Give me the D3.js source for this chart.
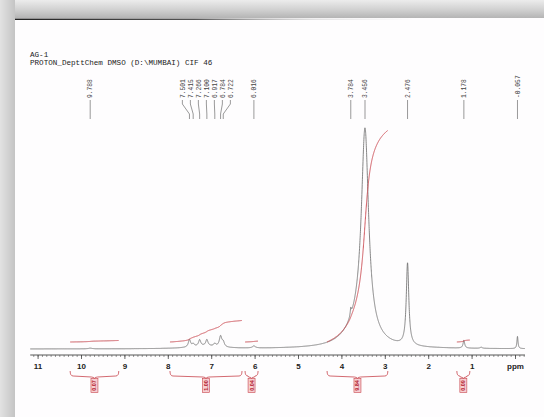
<!DOCTYPE html>
<html>
<head>
<meta charset="utf-8">
<script src="https://cdn.jsdelivr.net/npm/d3@7/dist/d3.min.js"></script>
<style>
  body { margin: 0; background: #fff; }
  svg { display: block; }
</style>
</head>
<body>
<svg id="chart" width="544" height="417"></svg>
<script>
// Header lines printed at the top of the sheet
const titleLines = ["AG-1", "PROTON_DepttChem DMSO (D:\\MUMBAI) CIF 46"];

// Peak picking labels (ppm)
const peakLabels = [9.788, 7.501, 7.415, 7.266, 7.100, 6.917, 6.784, 6.722, 6.016, 3.784, 3.456, 2.476, 1.178, -0.057];

// Lorentzian components of the spectrum: position (ppm), height (% of max), half width (ppm)
const peakPpm    = [9.788, 7.501, 7.415, 7.266, 7.100, 6.917, 6.784, 6.722, 7.15, 6.016, 3.784, 3.60, 3.456, 2.476, 1.178, 0.78, -0.057];
const peakHeight = [0.3,   3.4,   1.2,   2.8,   2.8,   1.2,   4.8,   2.0,   1.2,  0.9,   3.2,   10,   91,    37,    3.5,   0.5,  5.5];
const peakWidth  = [0.05,  0.03,  0.03,  0.03,  0.03,  0.03,  0.035, 0.03,  0.4,  0.04,  0.015, 0.35, 0.1,   0.035, 0.022, 0.03, 0.015];

// Integral regions (ppm) and integral values
const integralFrom   = [10.25, 7.95, 6.22, 4.33, 1.34];
const integralTo     = [9.13,  6.29, 5.92, 2.93, 1.04];
const integralValues = [0.07,  1.00, 0.04, 9.84, 0.09];

// Axis ticks
const majorTicks = [11, 10, 9, 8, 7, 6, 5, 4, 3, 2, 1, 0];
const axisUnit = "ppm";

const svg = d3.select("#chart"),
      width = +svg.attr("width"),
      height = +svg.attr("height");

const x = d3.scaleLinear().domain([11, 0]).range([37.6, 515]);
const y = d3.scaleLinear().domain([0, 100]).range([349, 127]);
const yInt = d3.scaleLinear().domain([0, 10]).range([342, 127]);
const axisY = 355;
const ppmMin = -0.23, ppmMax = 11.17;

// ---- paper / photo frame ----
const defs = svg.append("defs");
const topGrad = defs.append("linearGradient").attr("id", "topGrad")
    .attr("x1", 0).attr("y1", 0).attr("x2", 0).attr("y2", 1);
topGrad.append("stop").attr("offset", "0%").attr("stop-color", "#ececec");
topGrad.append("stop").attr("offset", "55%").attr("stop-color", "#d0d0d0");
topGrad.append("stop").attr("offset", "100%").attr("stop-color", "#b4b4b4");
const leftGrad = defs.append("linearGradient").attr("id", "leftGrad")
    .attr("x1", 0).attr("y1", 0).attr("x2", 1).attr("y2", 0);
leftGrad.append("stop").attr("offset", "0%").attr("stop-color", "#e2e2e2");
leftGrad.append("stop").attr("offset", "100%").attr("stop-color", "#c4c4c4");
const lineGrad = defs.append("linearGradient").attr("id", "lineGrad")
    .attr("x1", 0).attr("y1", 0).attr("x2", 1).attr("y2", 0);
lineGrad.append("stop").attr("offset", "0%").attr("stop-color", "#222");
lineGrad.append("stop").attr("offset", "45%").attr("stop-color", "#555");
lineGrad.append("stop").attr("offset", "75%").attr("stop-color", "#bbb").attr("stop-opacity", 0.4);
lineGrad.append("stop").attr("offset", "100%").attr("stop-color", "#ccc").attr("stop-opacity", 0);

svg.append("rect").attr("width", width).attr("height", height).attr("fill", "#fefdfe");
svg.append("rect").attr("x", 0).attr("y", 0).attr("width", width).attr("height", 18).attr("fill", "url(#topGrad)");
svg.append("rect").attr("x", 0).attr("y", 0).attr("width", 15).attr("height", height).attr("fill", "url(#leftGrad)");
svg.append("rect").attr("x", 15).attr("y", 18.5).attr("width", 400).attr("height", 1.5).attr("fill", "url(#lineGrad)");

// ---- header ----
svg.append("g").selectAll("text")
    .data(titleLines)
    .enter().append("text")
    .attr("x", 30)
    .attr("y", (d, i) => 57 + i * 7.5)
    .style("font-family", "'Liberation Mono', 'DejaVu Sans Mono', monospace")
    .style("font-size", "7.6px")
    .style("fill", "#222")
    .text(d => d);

// ---- spectrum ----
function intensity(p) {
    let s = 0;
    for (let i = 0; i < peakPpm.length; i++) {
        const u = (p - peakPpm[i]) / peakWidth[i];
        s += peakHeight[i] / (1 + u * u);
    }
    return s;
}

const specPts = d3.range(ppmMax, ppmMin, -0.002).map(p => [p, intensity(p)]);
svg.append("path")
    .datum(specPts)
    .attr("fill", "none")
    .attr("stroke", "#707070")
    .attr("stroke-width", 0.85)
    .attr("d", d3.line().x(d => x(d[0])).y(d => y(d[1])));

// ---- integral curves ----
const intLine = d3.line().x(d => x(d[0])).y(d => yInt(d[1]));
integralFrom.forEach((from, i) => {
    const ps = d3.range(from, integralTo[i], -0.002);
    const vals = ps.map(intensity);
    const total = d3.sum(vals);
    let cum = 0;
    const pts = ps.map((p, j) => { cum += vals[j]; return [p, cum / total * integralValues[i]]; });
    svg.append("path")
        .datum(pts)
        .attr("fill", "none")
        .attr("stroke", "#c8444c")
        .attr("stroke-width", 0.9)
        .attr("d", intLine);
});

// ---- axis ----
const minorAxis = d3.axisBottom(x)
    .tickValues(d3.range(-2, 112).map(i => i / 10))
    .tickSize(2)
    .tickFormat("");
const gMinor = svg.append("g").attr("transform", `translate(0,${axisY})`).call(minorAxis);
gMinor.select(".domain").remove();
gMinor.selectAll("line").attr("stroke", "#555").attr("stroke-width", 0.6);
svg.append("line")
    .attr("x1", x(ppmMax)).attr("x2", x(ppmMin))
    .attr("y1", axisY).attr("y2", axisY)
    .attr("stroke", "#444").attr("stroke-width", 0.9);

const majorAxis = d3.axisBottom(x)
    .tickValues(majorTicks)
    .tickSize(4)
    .tickPadding(4)
    .tickFormat(d => d === 0 ? axisUnit : d);
const gMajor = svg.append("g").attr("transform", `translate(0,${axisY})`).call(majorAxis);
gMajor.select(".domain").remove();
gMajor.selectAll("line").attr("stroke", "#444").attr("stroke-width", 0.8);
gMajor.selectAll("text")
    .style("font-family", "'Liberation Sans', Arial, sans-serif")
    .style("font-weight", "bold")
    .style("font-size", "8px")
    .style("fill", "#222");

// ---- peak labels (fanned when crowded) ----
const peaks = peakLabels.map(p => ({ ppm: p, px: x(p) })).sort((a, b) => a.px - b.px);
const gap = 8;
let groups = [], cur = [];
peaks.forEach(d => {
    if (cur.length && d.px - cur[cur.length - 1].px >= gap) { groups.push(cur); cur = []; }
    cur.push(d);
});
groups.push(cur);
groups.forEach(g => {
    const c = (g[0].px + g[g.length - 1].px) / 2;
    g.forEach((d, j) => { d.lx = c + (j - (g.length - 1) / 2) * gap; });
});

const gPeaks = svg.append("g");
gPeaks.selectAll("path")
    .data(peaks)
    .enter().append("path")
    .attr("fill", "none")
    .attr("stroke", "#555")
    .attr("stroke-width", 0.6)
    .attr("d", d => `M${d.lx},100 L${d.lx},104 L${d.px},114 L${d.px},119`);
gPeaks.selectAll("text")
    .data(peaks)
    .enter().append("text")
    .attr("transform", d => `translate(${d.lx + 2.2},98) rotate(-90)`)
    .style("font-family", "'Liberation Mono', 'DejaVu Sans Mono', monospace")
    .style("font-size", "6.3px")
    .style("fill", "#444")
    .text(d => d.ppm.toFixed(3));

// ---- integral brackets with value boxes ----
const gBr = svg.append("g");
integralFrom.forEach((from, i) => {
    const x1 = x(from), x2 = x(integralTo[i]), xc = (x1 + x2) / 2;
    const h = Math.min(3, (x2 - x1) / 4);
    gBr.append("path")
        .attr("fill", "none")
        .attr("stroke", "#c8444c")
        .attr("stroke-width", 0.8)
        .attr("d", `M${x1},371 Q${x1},376 ${x1 + h},376 L${xc - h},377 Q${xc},377 ${xc},379` +
                   ` M${x2},371 Q${x2},376 ${x2 - h},376 L${xc + h},377 Q${xc},377 ${xc},379`);
    gBr.append("rect")
        .attr("x", xc - 3.5).attr("y", 378.5)
        .attr("width", 7).attr("height", 14)
        .attr("fill", "#f6cfd2")
        .attr("stroke", "#c8444c")
        .attr("stroke-width", 0.6);
    gBr.append("text")
        .attr("transform", `translate(${xc + 2},385.5) rotate(-90)`)
        .attr("text-anchor", "middle")
        .style("font-family", "'Liberation Sans', Arial, sans-serif")
        .style("font-weight", "bold")
        .style("font-size", "5.5px")
        .style("fill", "#b3202c")
        .text(integralValues[i].toFixed(2));
});
</script>
</body>
</html>
